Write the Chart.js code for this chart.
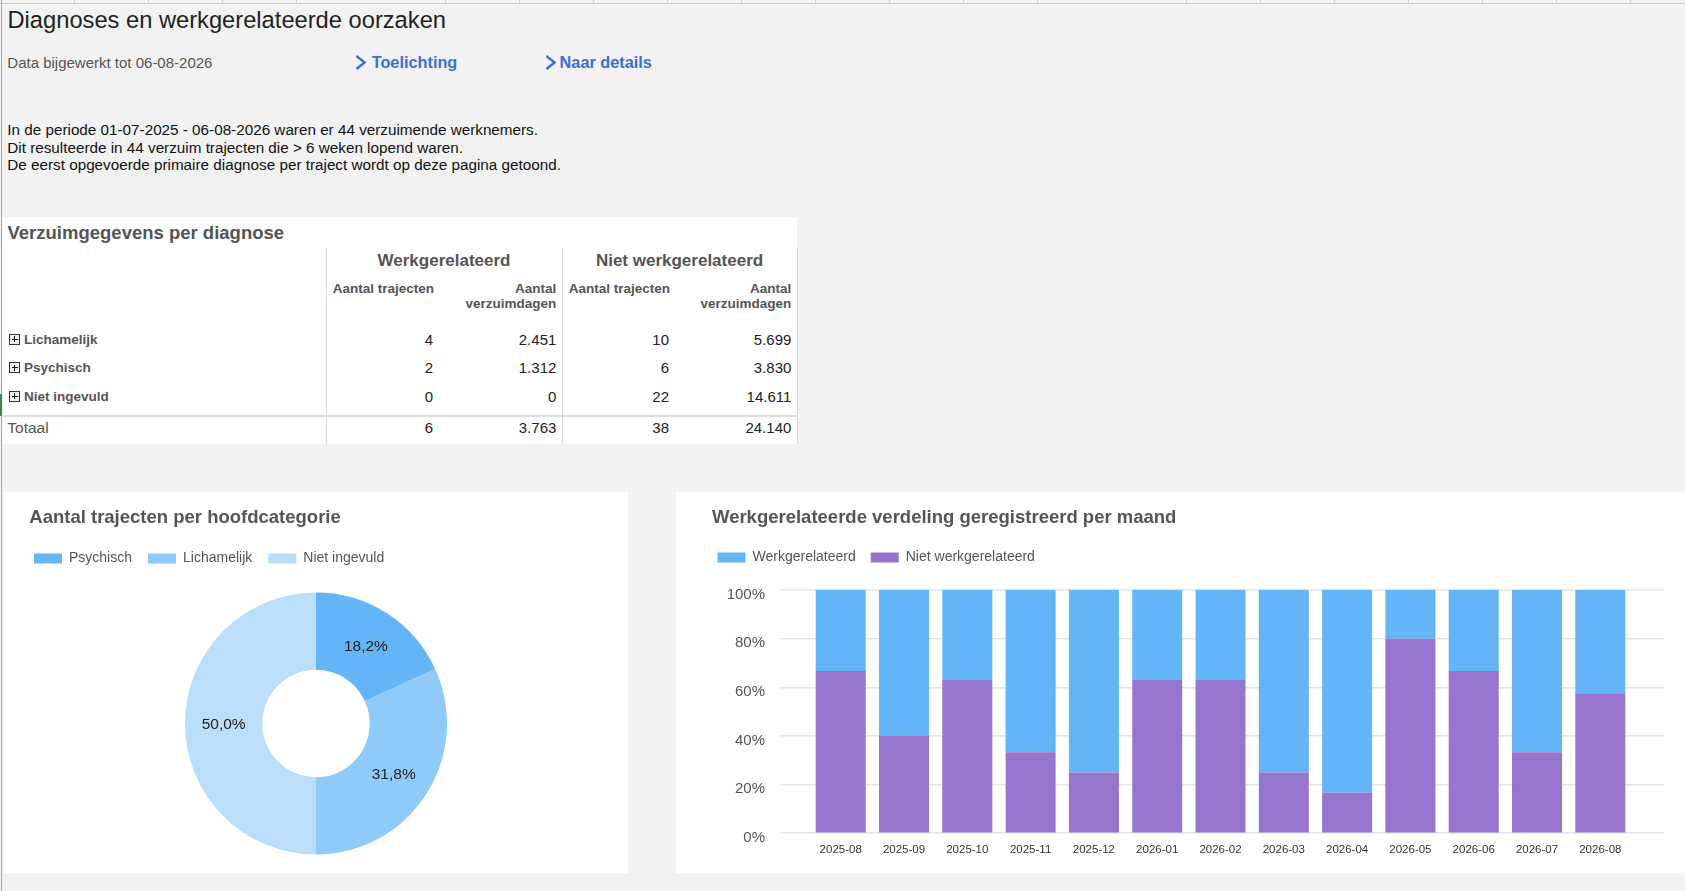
<!DOCTYPE html>
<html lang="nl">
<head>
<meta charset="utf-8">
<title>Diagnoses en werkgerelateerde oorzaken</title>
<script src="https://cdn.jsdelivr.net/npm/chart.js@4.4.1/dist/chart.umd.min.js"></script>
<style>
  html, body { margin: 0; padding: 0; }
  body {
    width: 1685px; height: 891px; position: relative; overflow: hidden;
    background: #f2f2f2;
    font-family: "Liberation Sans", Arial, sans-serif;
  }
  .abs { position: absolute; white-space: nowrap; }
  .topgrid {
    left: 0; top: 0; width: 1685px; height: 3px;
    border-bottom: 1px solid #cfcfcf;
    background: repeating-linear-gradient(90deg, transparent 0, transparent 73.1px, #c9c9c9 73.1px, #c9c9c9 74.1px);
    background-position: 1.1px 0;
  }
  .leftline { left: 1px; top: 0; width: 1px; height: 891px; background: #ababab; }
  .greenmark { left: 0; top: 394px; width: 1.5px; height: 22px; background: #2f8a4e; }
  h1 { margin: 0; font-weight: normal; font-size: 23.7px; line-height: 26px; color: #222; left: 7.5px; top: 7px; }
  .updated { left: 7.3px; top: 54.2px; font-size: 15px; line-height: 18px; color: #555; }
  .link { font-size: 16.3px; font-weight: bold; line-height: 18px; color: #3b6fd8; top: 52.5px; }
  .chev { width: 13px; height: 15px; top: 54.5px; }
  .intro { left: 7.3px; top: 121.2px; font-size: 15.25px; line-height: 17.5px; color: #111; }

  .panel { position: absolute; background: #fff; }
  .ptitle { position: absolute; font-size: 18.5px; font-weight: bold; line-height: 22px; color: #555; white-space: nowrap; }

  table.vz { position: absolute; left: 0; top: 31px; width: 794px; border-collapse: collapse; table-layout: fixed; }
  table.vz td, table.vz th { padding: 0; white-space: nowrap; overflow: hidden; }
  table.vz .bl { border-left: 1px solid #d9d9d9; }
  table.vz .br { border-right: 1px solid #d9d9d9; }
  tr.h1 th { font-size: 17px; line-height: 26px; color: #555; text-align: center; font-weight: bold; }
  tr.h2 th { font-size: 13.5px; line-height: 15px; color: #555; font-weight: bold; vertical-align: top; padding-top: 6.5px; padding-bottom: 15.25px; }
  tr.h2 th.l { text-align: left; padding-left: 6.3px; }
  tr.h2 th.r { text-align: right; padding-right: 5.2px; }
  tr.row td { line-height: 28.5px; font-size: 15px; color: #222; }
  tr.row td.lab { font-size: 13.5px; font-weight: bold; color: #555; padding-left: 6.3px; }
  tr.sp td { height: 3.5px; line-height: 0; font-size: 0; }
  tr.tot td { border-top: 2px solid #dedede; font-size: 15px; color: #222; line-height: 19px; padding-top: 1.5px; padding-bottom: 6.25px; }
  tr.tot td.lab { font-size: 15.5px; color: #555; padding-left: 4.3px; }
  td.n1, td.n3 { text-align: right; padding-right: 4px !important; }
  td.n2, td.n4 { text-align: right; padding-right: 5.2px !important; }
  .plus {
    display: inline-block; width: 9px; height: 9px; border: 1px solid #333; background: #eee;
    position: relative; vertical-align: middle; margin-right: 3.7px; top: -1px;
  }
  .plus::before { content: ""; position: absolute; left: 1.5px; top: 4px; width: 6px; height: 1px; background: #111; }
  .plus::after { content: ""; position: absolute; left: 4px; top: 1.5px; width: 1px; height: 6px; background: #111; }
  canvas { position: absolute; left: 0; top: 0; }
</style>
</head>
<body>
<div class="abs topgrid"></div>
<div class="abs leftline"></div>
<div class="abs greenmark"></div>

<h1 class="abs">Diagnoses en werkgerelateerde oorzaken</h1>
<div class="abs updated">Data bijgewerkt tot 06-08-2026</div>

<svg class="abs chev" style="left:354px" viewBox="0 0 13 15"><polyline points="2.5,1 10.5,7.5 2.5,14" fill="none" stroke="#3b6fd8" stroke-width="2.4"/></svg>
<div class="abs link" style="left:371.7px">Toelichting</div>
<svg class="abs chev" style="left:543.5px" viewBox="0 0 13 15"><polyline points="2.5,1 10.5,7.5 2.5,14" fill="none" stroke="#3b6fd8" stroke-width="2.4"/></svg>
<div class="abs link" style="left:559.6px">Naar details</div>

<div class="abs intro">In de periode 01-07-2025 - 06-08-2026 waren er 44 verzuimende werknemers.<br>Dit resulteerde in 44 verzuim trajecten die &gt; 6 weken lopend waren.<br>De eerst opgevoerde primaire diagnose per traject wordt op deze pagina getoond.</div>

<div class="panel" style="left:3px; top:217px; width:794px; height:227px;">
  <div class="ptitle" style="left:4.5px; top:5px;">Verzuimgegevens per diagnose</div>
  <table class="vz" id="tabel">
    <colgroup><col style="width:323px"><col style="width:111px"><col style="width:125px"><col style="width:111px"><col style="width:124px"></colgroup>
    <tr class="h1"><th></th><th class="bl" colspan="2">Werkgerelateerd</th><th class="bl br" colspan="2">Niet werkgerelateerd</th></tr>
    <tr class="h2"><th></th><th class="bl l">Aantal trajecten</th><th class="r">Aantal<br>verzuimdagen</th><th class="bl l">Aantal trajecten</th><th class="r br">Aantal<br>verzuimdagen</th></tr>
  </table>
</div>

<div class="panel" style="left:4px; top:492px; width:624px; height:381px;">
  <canvas id="donut" width="624" height="381"></canvas>
  <div class="ptitle" style="left:25.3px; top:13.9px;">Aantal trajecten per hoofdcategorie</div>
</div>

<div class="panel" style="left:676px; top:492px; width:1009px; height:381px;">
  <canvas id="maand" width="1009" height="381"></canvas>
  <div class="ptitle" style="left:36px; top:13.9px;">Werkgerelateerde verdeling geregistreerd per maand</div>
</div>

<script>
// verzuimgegevens per diagnose
var tabelRijen = ["Lichamelijk", "Psychisch", "Niet ingevuld"];
var werkTrajecten = [4, 2, 0];
var werkDagen = [2451, 1312, 0];
var nietWerkTrajecten = [10, 6, 22];
var nietWerkDagen = [5699, 3830, 14611];
var totalen = [6, 3763, 38, 24140];

// trajecten per hoofdcategorie
var categorieen = ["Psychisch", "Lichamelijk", "Niet ingevuld"];
var trajecten = [8, 14, 22];
var categorieKleuren = ["#64b5f6", "#90caf9", "#bbdefb"];

// werkgerelateerde verdeling per maand (%)
var maanden = ["2025-08", "2025-09", "2025-10", "2025-11", "2025-12", "2026-01", "2026-02",
  "2026-03", "2026-04", "2026-05", "2026-06", "2026-07", "2026-08"];
var werkgerelateerd = [33.3, 60, 37, 66.7, 75, 37, 37, 75, 83.3, 20, 33.3, 66.7, 42.5];
var nietWerkgerelateerd = [66.7, 40, 63, 33.3, 25, 63, 63, 25, 16.7, 80, 66.7, 33.3, 57.5];
var procentTicks = [0, 20, 40, 60, 80, 100];

function nl(n) {
  return String(n).replace(/\B(?=(\d{3})+(?!\d))/g, ".");
}

// tabel vullen
var tabel = document.getElementById("tabel");
tabelRijen.forEach(function (naam, i) {
  var tr = document.createElement("tr");
  tr.className = "row";
  tr.innerHTML = '<td class="lab"><span class="plus"></span>' + naam + '</td>' +
    '<td class="bl n1">' + werkTrajecten[i] + '</td>' +
    '<td class="n2">' + nl(werkDagen[i]) + '</td>' +
    '<td class="bl n3">' + nietWerkTrajecten[i] + '</td>' +
    '<td class="br n4">' + nl(nietWerkDagen[i]) + '</td>';
  tabel.appendChild(tr);
});
var sp = document.createElement("tr");
sp.className = "sp";
sp.innerHTML = '<td></td><td class="bl"></td><td></td><td class="bl"></td><td class="br"></td>';
tabel.appendChild(sp);
var tot = document.createElement("tr");
tot.className = "tot";
tot.innerHTML = '<td class="lab">Totaal</td>' +
  '<td class="bl n1">' + totalen[0] + '</td>' +
  '<td class="n2">' + nl(totalen[1]) + '</td>' +
  '<td class="bl n3">' + totalen[2] + '</td>' +
  '<td class="br n4">' + nl(totalen[3]) + '</td>';
tabel.appendChild(tot);

Chart.defaults.font.family = '"Liberation Sans", Arial, sans-serif';
Chart.defaults.color = "#555";

// extra ruimte onder de legenda
function legendGap(gap) {
  return {
    id: "legendGap",
    beforeInit: function (chart) {
      var fit = chart.legend.fit;
      chart.legend.fit = function () {
        fit.bind(chart.legend)();
        this.height += gap;
      };
    }
  };
}

var sliceLabels = {
  id: "sliceLabels",
  afterDatasetsDraw: function (chart) {
    var ctx = chart.ctx;
    var values = chart.data.datasets[0].data;
    var total = values.reduce(function (a, b) { return a + b; }, 0);
    ctx.save();
    ctx.font = '15.5px "Liberation Sans", Arial, sans-serif';
    ctx.fillStyle = "#222";
    ctx.textAlign = "center";
    ctx.textBaseline = "middle";
    chart.getDatasetMeta(0).data.forEach(function (arc, i) {
      var p = arc.tooltipPosition();
      ctx.fillText((values[i] / total * 100).toFixed(1).replace(".", ",") + "%", p.x, p.y + 1);
    });
    ctx.restore();
  }
};

new Chart(document.getElementById("donut"), {
  type: "doughnut",
  data: {
    labels: categorieen,
    datasets: [{
      data: trajecten,
      backgroundColor: categorieKleuren,
      borderWidth: 0
    }]
  },
  options: {
    responsive: false,
    animation: false,
    cutout: "41%",
    layout: { padding: { top: 43.5, left: 14, right: 14, bottom: 18.5 } },
    plugins: {
      tooltip: { enabled: false },
      legend: {
        position: "top",
        align: "start",
        labels: { boxWidth: 28, boxHeight: 10, padding: 16, color: "#555", font: { size: 14 } }
      }
    }
  },
  plugins: [legendGap(17), sliceLabels]
});

new Chart(document.getElementById("maand"), {
  type: "bar",
  data: {
    datasets: [{
      label: "Niet werkgerelateerd",
      data: nietWerkgerelateerd.map(function (v, i) { return { x: i, y: v }; }),
      backgroundColor: "#9575cd",
      borderWidth: 0
    }, {
      label: "Werkgerelateerd",
      data: werkgerelateerd.map(function (v, i) { return { x: i, y: v }; }),
      backgroundColor: "#64b5f6",
      borderWidth: 0
    }]
  },
  options: {
    responsive: false,
    animation: false,
    categoryPercentage: 1,
    barPercentage: 0.79,
    layout: { padding: { top: 43.5, left: 26.5, right: 21, bottom: 6 } },
    plugins: {
      tooltip: { enabled: false },
      legend: {
        position: "top",
        align: "start",
        reverse: true,
        labels: { boxWidth: 28, boxHeight: 10, padding: 15, color: "#555", font: { size: 14 } }
      }
    },
    scales: {
      x: {
        type: "linear",
        offset: false,
        stacked: true,
        min: -0.959,
        max: 13.006,
        grid: { display: false, drawTicks: false, offset: false },
        border: { display: false },
        afterBuildTicks: function (scale) {
          scale.ticks = maanden.map(function (m, i) { return { value: i }; });
        },
        ticks: {
          autoSkip: false,
          maxRotation: 0,
          minRotation: 0,
          padding: 10,
          color: "#333",
          font: { size: 11.5 },
          callback: function (v) { return maanden[v]; }
        }
      },
      y: {
        stacked: true,
        min: 0,
        max: 100,
        afterBuildTicks: function (scale) {
          scale.ticks = procentTicks.map(function (v) { return { value: v }; });
        },
        afterFit: function (scale) { scale.width = 77.5; },
        grid: { color: "#e4e4e4", lineWidth: 1.5, drawTicks: false },
        border: { display: false },
        ticks: {
          padding: 15,
          labelOffset: 4.5,
          color: "#555",
          font: { size: 15 },
          callback: function (v) { return v + "%"; }
        }
      }
    }
  },
  plugins: [legendGap(15.5)]
});
</script>
</body>
</html>
